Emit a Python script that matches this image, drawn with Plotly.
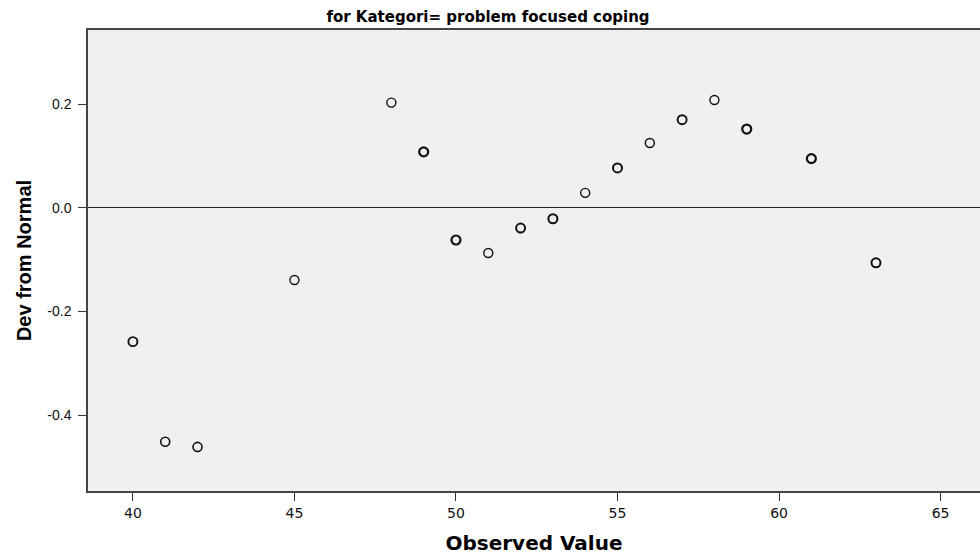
import plotly.graph_objects as go

observed = [40, 41, 42, 45, 48, 49, 50, 51, 52, 53, 54, 55, 56, 57, 58, 59, 61, 63]
dev_from_normal = [-0.258, -0.451, -0.461, -0.139, 0.203, 0.108, -0.062, -0.087, -0.039,
                   -0.021, 0.029, 0.077, 0.125, 0.170, 0.208, 0.152, 0.095, -0.106]
x_ticks = [40, 45, 50, 55, 60, 65]
y_ticks = [-0.4, -0.2, 0.0, 0.2]
y_tick_labels = ["-0.4", "-0.2", "0.0", "0.2"]

# marker outline weight (darker rings in the original)
ring_width = [1.9, 1.6, 1.6, 1.4, 1.4, 2.2, 2.2, 1.4, 2.0, 2.0, 1.4, 2.0, 1.5, 1.9, 1.4, 2.2, 2.2, 2.0]

sans = "Liberation Sans, Arial, sans-serif"
wide = "DejaVu Sans, Verdana, sans-serif"

fig = go.Figure()
fig.add_trace(go.Scatter(
    x=observed, y=dev_from_normal, mode="markers",
    marker=dict(symbol="circle-open", size=9, color="#111111",
                line=dict(width=ring_width, color="#111111")),
    showlegend=False, hoverinfo="x+y",
))

fig.update_layout(
    width=980, height=556,
    margin=dict(l=88, r=0, t=30, b=65),
    paper_bgcolor="white", plot_bgcolor="#F0F0F0",
    title=dict(text="<b>for Kategori= problem focused coping</b>", x=488 / 980, xref="container",
               xanchor="center", y=1 - 17 / 556, yanchor="middle", yref="container",
               font=dict(family=wide, size=15, color="#000")),
    xaxis=dict(range=[38.61, 66.22], tickmode="array", tickvals=x_ticks,
               ticks="outside", ticklen=8, tickwidth=1.2, tickcolor="#333",
               showline=True, linecolor="#444", linewidth=1.5, mirror=True,
               showgrid=False, zeroline=False,
               tickfont=dict(family=wide, size=14, color="#111"),
               title=dict(text="<b>Observed Value</b>", standoff=16,
                          font=dict(family=wide, size=20, color="#000"))),
    yaxis=dict(range=[-0.546, 0.343], tickmode="array", tickvals=y_ticks, ticktext=y_tick_labels,
               ticks="outside", ticklen=8, tickwidth=1.2, tickcolor="#333", ticklabelstandoff=4,
               showline=True, linecolor="#444", linewidth=1.5,
               showgrid=False, zeroline=True, zerolinecolor="#222", zerolinewidth=1.3,
               tickfont=dict(family=sans, size=14, color="#111"),
               title=dict(text="<b>Dev from Normal</b>", standoff=10,
                          font=dict(family=sans, size=20, color="#000"))),
)

fig.write_html("out.html", config={"displayModeBar": False},
               post_script="document.body.style.margin='0';document.body.style.overflow='hidden';")
